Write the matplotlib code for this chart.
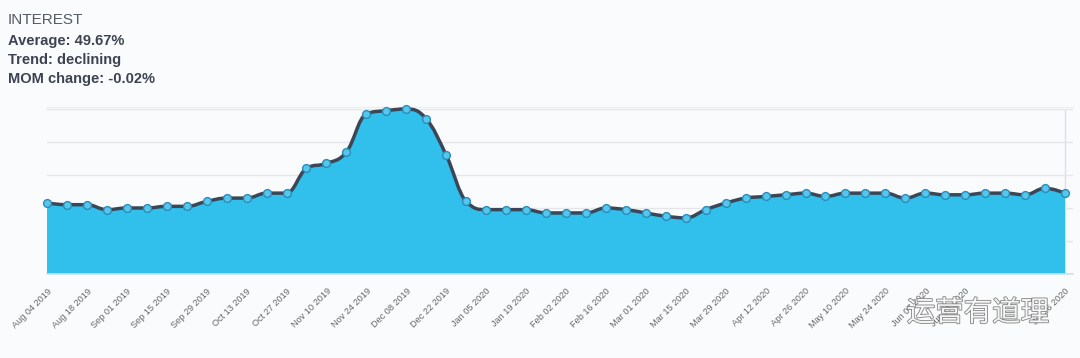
import matplotlib
matplotlib.use("Agg")
import matplotlib.pyplot as plt
import matplotlib.patheffects as pe
from matplotlib.path import Path
from matplotlib.patches import PathPatch
import numpy as np

# ---------------- data ----------------
weeks = ["Aug 04 2019", "Aug 11 2019", "Aug 18 2019", "Aug 25 2019", "Sep 01 2019", "Sep 08 2019",
         "Sep 15 2019", "Sep 22 2019", "Sep 29 2019", "Oct 06 2019", "Oct 13 2019", "Oct 20 2019",
         "Oct 27 2019", "Nov 03 2019", "Nov 10 2019", "Nov 17 2019", "Nov 24 2019", "Dec 01 2019",
         "Dec 08 2019", "Dec 15 2019", "Dec 22 2019", "Dec 29 2019", "Jan 05 2020", "Jan 12 2020",
         "Jan 19 2020", "Jan 26 2020", "Feb 02 2020", "Feb 09 2020", "Feb 16 2020", "Feb 23 2020",
         "Mar 01 2020", "Mar 08 2020", "Mar 15 2020", "Mar 22 2020", "Mar 29 2020", "Apr 05 2020",
         "Apr 12 2020", "Apr 19 2020", "Apr 26 2020", "May 03 2020", "May 10 2020", "May 17 2020",
         "May 24 2020", "May 31 2020", "Jun 07 2020", "Jun 14 2020", "Jun 21 2020", "Jun 28 2020",
         "Jul 05 2020", "Jul 12 2020", "Jul 19 2020", "Jul 26 2020"]
interest = [43, 42, 42, 39, 40, 40, 41, 41, 44, 46, 46, 49,
            49, 64, 67, 74, 97, 99, 100, 94, 72, 44, 39, 39,
            39, 37, 37, 37, 40, 39, 37, 35, 34, 39, 43, 46,
            47, 48, 49, 47, 49, 49, 49, 46, 49, 48, 48, 49,
            49, 48, 52, 49]
label_idx = list(range(0, 50, 2))[:-1] + [51]  # every 2 weeks up to Jul 05, plus last
title_lines = ["INTEREST", "Average: 49.67%", "Trend: declining", "MOM change: -0.02%"]

# ---------------- style ----------------
BG = "#fafbfd"
FILL = "#31c0eb"
LINE = "#3b4757"
GRID = "#e4e6ea"
plt.rcParams["font.family"] = ["Liberation Sans", "DejaVu Sans"]

fig = plt.figure(figsize=(10.8, 3.58), dpi=100, facecolor=BG)
ax = fig.add_axes([47 / 1080, (358 - 274) / 358, (1073 - 47) / 1080, (274 - 109) / 358])
ax.set_facecolor(BG)

x = np.arange(len(interest), dtype=float)
y = np.array(interest, dtype=float)


def spline_path(xs, ys, smoothing=1.5):
    """Highcharts-style spline through the points, as cubic Bezier segments."""
    denom = smoothing + 1
    n = len(xs)
    lc = [(xs[i], ys[i]) for i in range(n)]
    rc = [(xs[i], ys[i]) for i in range(n)]
    for i in range(1, n - 1):
        px, py = xs[i], ys[i]
        lx, ly = xs[i - 1], ys[i - 1]
        nx, ny = xs[i + 1], ys[i + 1]
        lcx = (smoothing * px + lx) / denom
        lcy = (smoothing * py + ly) / denom
        rcx = (smoothing * px + nx) / denom
        rcy = (smoothing * py + ny) / denom
        if rcx != lcx:
            corr = ((rcy - lcy) * (rcx - px)) / (rcx - lcx) + py - rcy
            lcy += corr
            rcy += corr
        if lcy > ly and lcy > py:
            lcy = max(ly, py); rcy = 2 * py - lcy
        elif lcy < ly and lcy < py:
            lcy = min(ly, py); rcy = 2 * py - lcy
        if rcy > ny and rcy > py:
            rcy = max(ny, py); lcy = 2 * py - rcy
        elif rcy < ny and rcy < py:
            rcy = min(ny, py); lcy = 2 * py - rcy
        lc[i] = (lcx, lcy)
        rc[i] = (rcx, rcy)
    verts = [(xs[0], ys[0])]
    codes = [Path.MOVETO]
    for i in range(1, n):
        verts += [rc[i - 1], lc[i], (xs[i], ys[i])]
        codes += [Path.CURVE4] * 3
    return verts, codes


verts, codes = spline_path(x, y)
# area
area_verts = verts + [(x[-1], 0), (x[0], 0), (x[0], y[0])]
area_codes = codes + [Path.LINETO, Path.LINETO, Path.CLOSEPOLY]
ax.add_patch(PathPatch(Path(area_verts, area_codes), facecolor=FILL, edgecolor="none", zorder=2))
ax.add_patch(PathPatch(Path(verts, codes), facecolor="none", edgecolor=LINE, lw=2.5,
                       capstyle="round", joinstyle="round", zorder=3, clip_on=False))
ax.plot(x, y, "o", ms=5.6, mfc="#56c6ec", mec="#2a8cb8", mew=1.0, zorder=4, clip_on=False)

ax.set_xlim(0, 51.4)
ax.set_ylim(0, 100)
ax.set_yticks(np.arange(0, 101, 20))
ax.yaxis.grid(True, color=GRID, lw=1.0, zorder=1)
ax.tick_params(axis="y", left=False, labelleft=False)
ax.axvline(51, color="#dcdfe4", lw=1.0, zorder=1)
ax.axhline(101.5, color="#eceef1", lw=1.0, zorder=1, clip_on=False)
for s in ["top", "right", "left"]:
    ax.spines[s].set_visible(False)
ax.spines["bottom"].set_color("#c7e3f0")
ax.spines["bottom"].set_linewidth(1.2)

ax.set_xticks(label_idx)
ax.set_xticklabels([weeks[i] for i in label_idx], rotation=45, ha="right", va="top",
                   rotation_mode="anchor", fontsize=6.6, color="#666666")
ax.tick_params(axis="x", length=0, pad=9)

# header text
fig.text(8 / 1080, 1 - 20 / 358, title_lines[0], fontsize=11, color="#555b66", va="center", ha="left")
for k, t in enumerate(title_lines[1:]):
    fig.text(8 / 1080, 1 - (41 + 19.2 * k) / 358, t, fontsize=10.5, fontweight="bold",
             color="#3d4352", va="center", ha="left")

# watermark
fig.text(978 / 1080, 1 - 313 / 358, "运营有道理", fontsize=20.5, color="white",
         family=["Noto Sans CJK SC", "DejaVu Sans"], ha="center", va="center", alpha=0.9,
         path_effects=[pe.withStroke(linewidth=1.2, foreground="#777777")], zorder=10)

fig.savefig("out.png", dpi=100, facecolor=BG)
